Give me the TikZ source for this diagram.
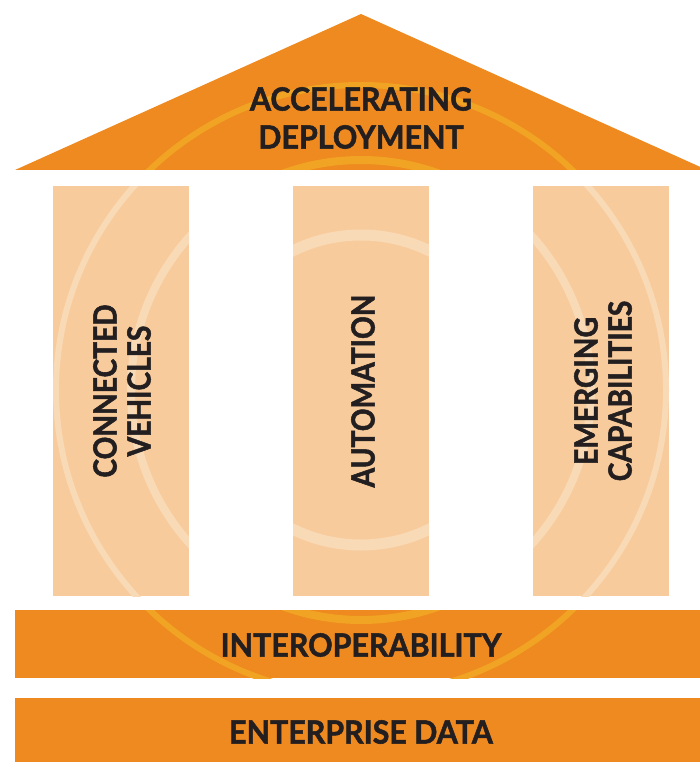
\documentclass[tikz,border=0pt]{standalone}
\usepackage{fontspec}
\newfontfamily\labfont{Lato}[FakeStretch=0.95,FakeBold=1.6]
\newfontfamily\vlabfont{Lato}[FakeStretch=0.88,FakeBold=1.6]
\definecolor{orng}{HTML}{EE8A1F}
\definecolor{peach}{HTML}{F8CB9C}
\definecolor{ringo}{HTML}{F1A423}
\definecolor{ringp}{HTML}{F9DAB6}
\definecolor{ink}{HTML}{231F20}
\tikzset{
  pillar/.style={fill=peach, minimum width=136pt, minimum height=410pt, inner sep=0pt, outer sep=0pt},
  bar/.style={fill=orng, minimum width=692pt, inner sep=0pt, outer sep=0pt},
  lab/.style={text=ink, font={\labfont\bfseries\fontsize{32}{34}\selectfont}, align=center, inner sep=0pt},
  vlab/.style={lab, rotate=90, font={\vlabfont\bfseries\fontsize{32}{34}\selectfont}},
  ringA/.style={line width=6pt},
  ringB/.style={line width=8pt},
  ringC/.style={line width=11pt}
}
\newcommand{\myrings}[1]{%
  \draw[ringA,#1] (ctr) circle[radius=305pt];
  \draw[ringB,#1] (ctr) circle[radius=230pt];
  \draw[ringC,#1] (ctr) circle[radius=155pt];}
\begin{document}
\begin{tikzpicture}[x=1pt,y=-1pt]
\useasboundingbox (0,0) rectangle (699,762);
\coordinate (ctr) at (361,390);
% roof
\coordinate (rl) at (15,170);
\coordinate (rt) at (361,14);
\coordinate (rr) at (707,170);
\fill[orng] (rl) -- (rt) -- (rr) -- cycle;
\begin{scope}
  \clip (rl) -- (rt) -- (rr) -- cycle;
  \myrings{ringo}
\end{scope}
% pillars
\node[pillar] (p1) at (121,391) {};
\node[pillar] (p2) at (361,391) {};
\node[pillar] (p3) at (601,391) {};
\foreach \p in {p1,p2,p3}{
  \begin{scope}
    \clip (\p.north west) rectangle (\p.south east);
    \myrings{ringp}
  \end{scope}
}
% bars
\node[bar, minimum height=68pt] (b1) at (361,644) {};
\node[bar, minimum height=64pt] (b2) at (361,730) {};
\foreach \b in {b1,b2}{
  \begin{scope}
    \clip (\b.north west) rectangle (\b.south east);
    \myrings{ringo}
  \end{scope}
}
% labels
\node[lab, font={\labfont\bfseries\fontsize{32}{38}\selectfont}] (tr) at (361,118) {ACCELERATING\\DEPLOYMENT};
\node[vlab] (t1) at (122,391) {CONNECTED\\VEHICLES};
\node[vlab] (t2) at (363,391) {AUTOMATION};
\node[vlab] (t3) at (603,391) {EMERGING\\CAPABILITIES};
\node[lab] (ti) at (361,645) {INTEROPERABILITY};
\node[lab] (te) at (361,732) {ENTERPRISE DATA};
\end{tikzpicture}
\end{document}
